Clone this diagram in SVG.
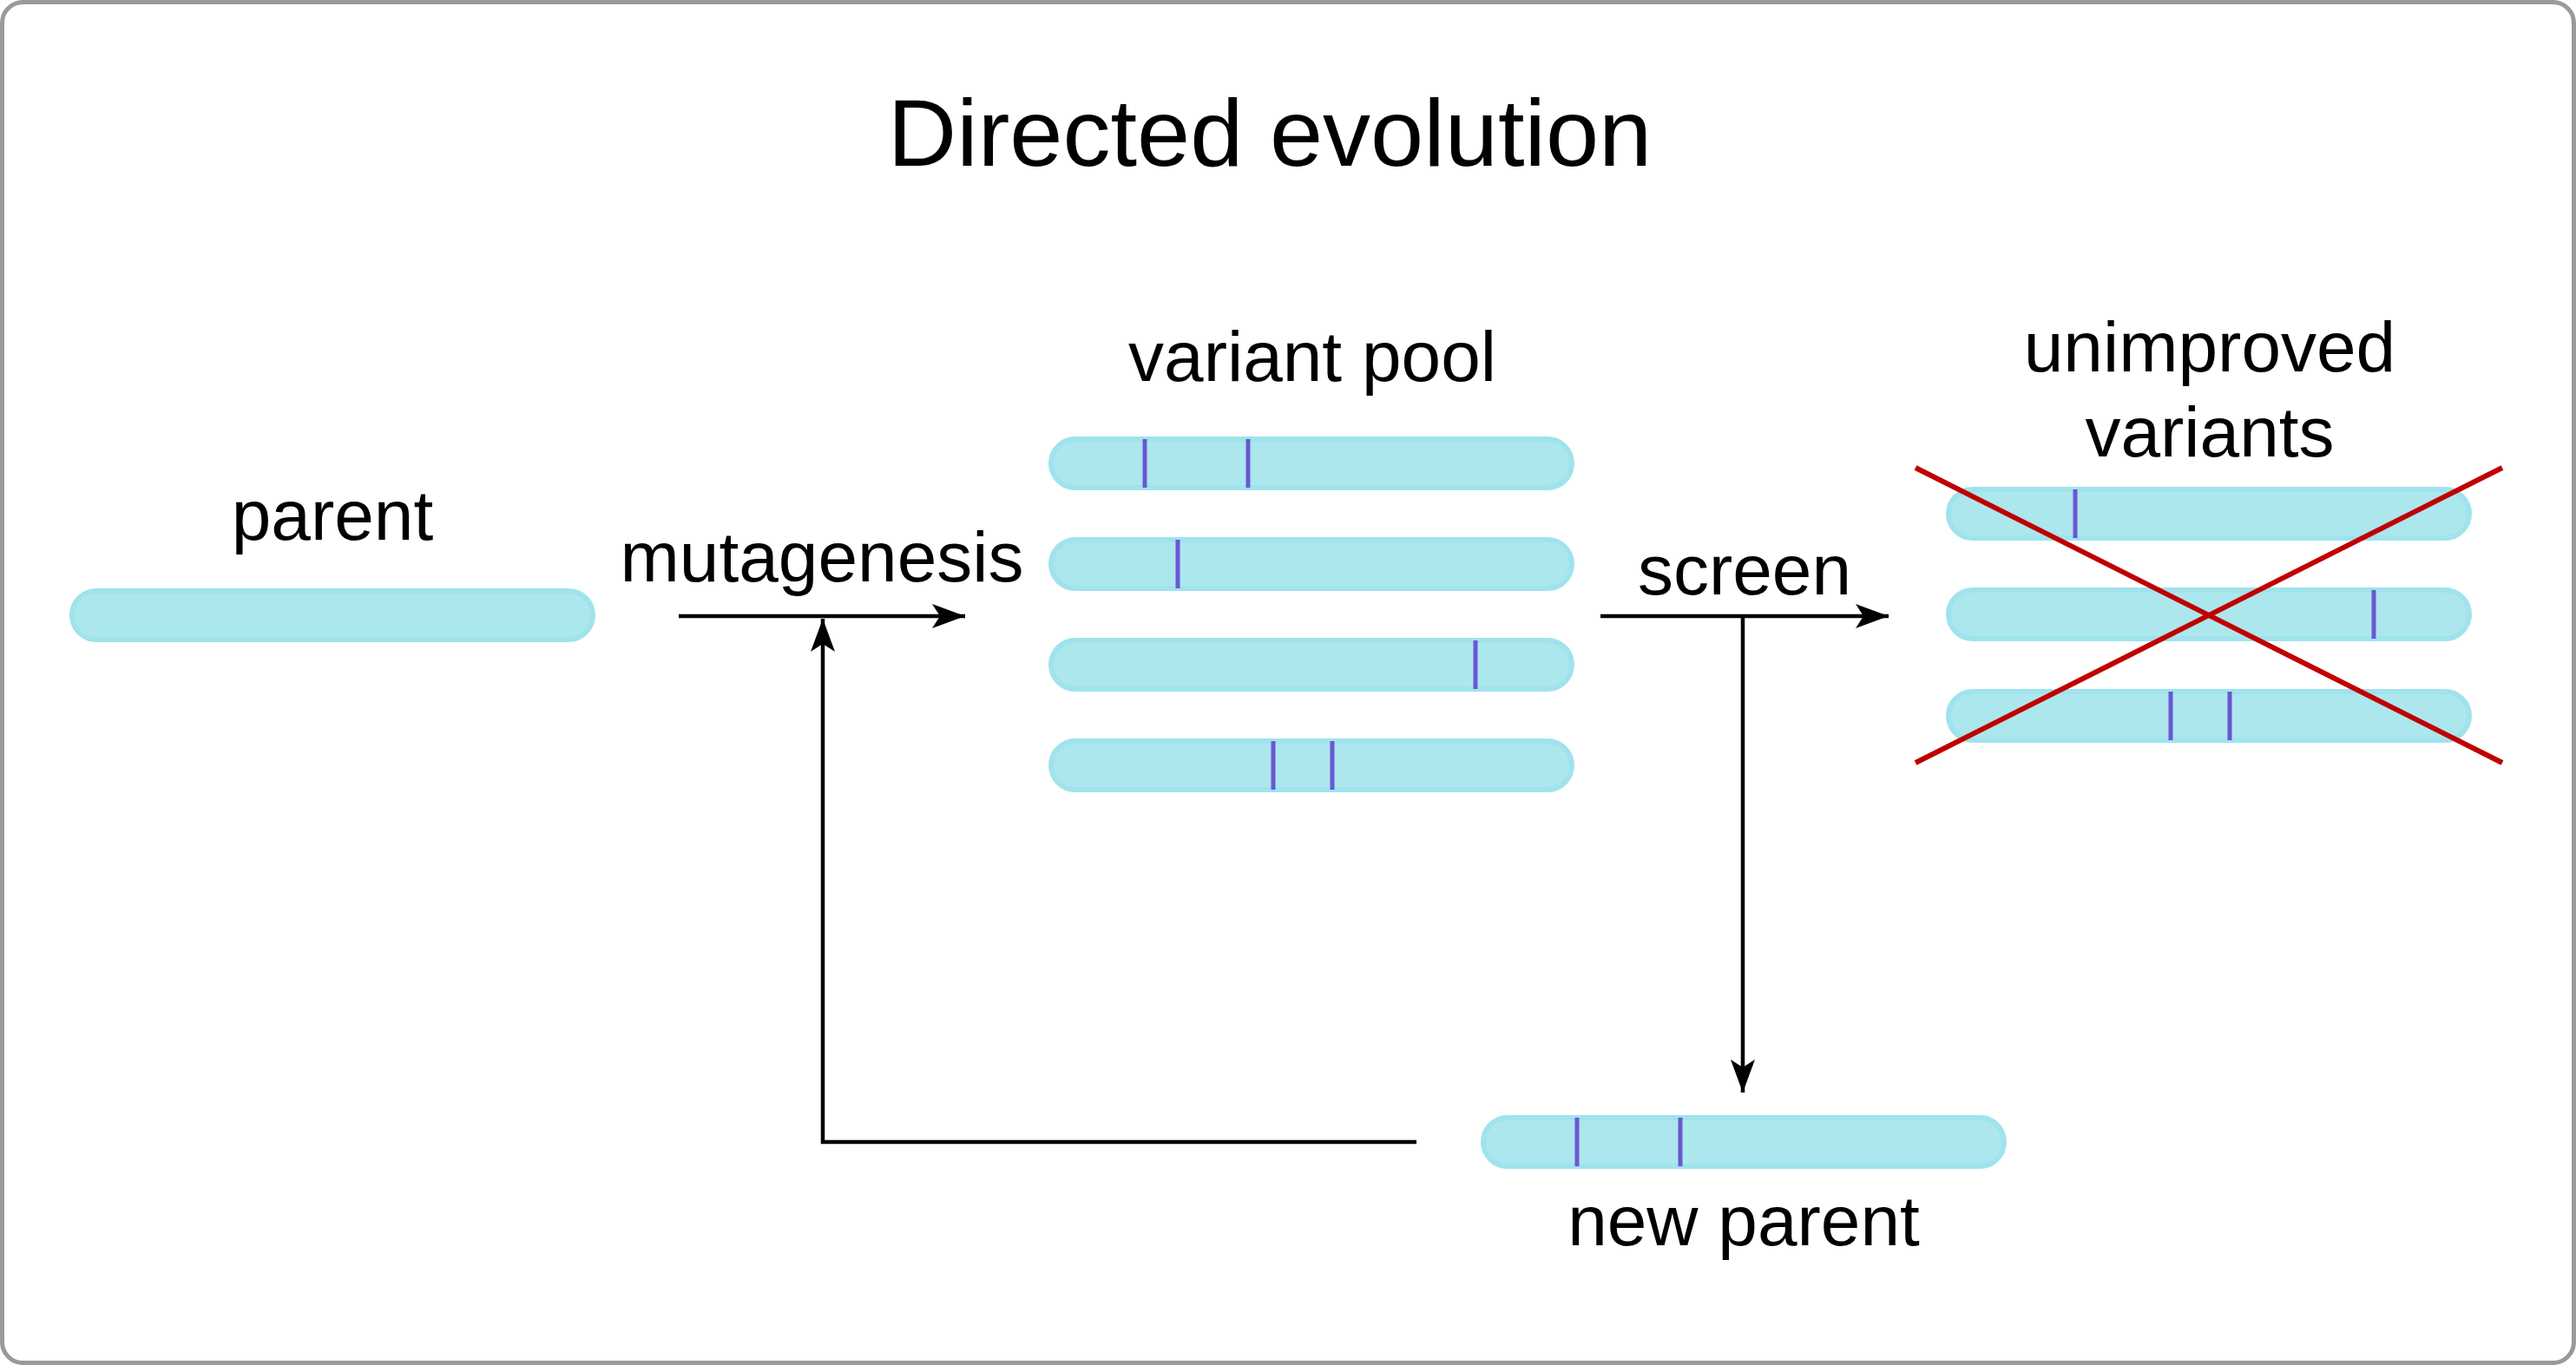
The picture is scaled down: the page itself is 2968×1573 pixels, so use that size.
<svg xmlns="http://www.w3.org/2000/svg" width="2968" height="1573" viewBox="0 0 2968 1573">
  <defs>
    <style>
      .lbl { font-family: "Liberation Sans", Arial, sans-serif; font-size: 82px; fill: #000; text-anchor: middle; }
      .title { font-family: "Liberation Sans", Arial, sans-serif; font-size: 110px; fill: #000; text-anchor: middle; }
      .bar { fill: #ace7ee; stroke: #a0e3ec; stroke-width: 6; }
      .mut { stroke: #6a57d2; stroke-width: 5; }
      .conn { stroke: #000; stroke-width: 4.5; fill: none; }
      .cross { stroke: #c00000; stroke-width: 6; }
    </style>
    <marker id="arr" markerUnits="userSpaceOnUse" viewBox="-40 -16 42 32" refX="0" refY="0" markerWidth="42" markerHeight="32" orient="auto">
      <path d="M0,0 L-38,-14 L-29,0 L-38,14 Z" fill="#000"/>
    </marker>
  </defs>

  <rect x="2.5" y="2.5" width="2963" height="1568" rx="24" ry="24" fill="#fff" stroke="#9a9a9a" stroke-width="5"/>

  <text class="title" x="1463" y="191">Directed evolution</text>

  <g id="connectors">
    <line class="conn" x1="782" y1="710" x2="1112" y2="710" marker-end="url(#arr)"/>
    <line class="conn" x1="1844" y1="710" x2="2176" y2="710" marker-end="url(#arr)"/>
    <line class="conn" x1="2008" y1="710" x2="2008" y2="1259" marker-end="url(#arr)"/>
    <line class="conn" x1="1632" y1="1316" x2="946" y2="1316"/>
    <line class="conn" x1="948" y1="1318" x2="948" y2="713" marker-end="url(#arr)"/>
  </g>

  <g id="parent">
    <rect class="bar" x="83" y="681" width="600" height="56" rx="28" ry="28"/>
    <text class="lbl" x="383" y="622">parent</text>
  </g>

  <g id="mutagenesis-label">
    <text class="lbl" x="947" y="670">mutagenesis</text>
  </g>

  <g id="variant-pool">
    <text class="lbl" x="1512" y="439">variant pool</text>
    <rect class="bar" x="1211" y="506" width="600" height="56" rx="28" ry="28"/>
    <line class="mut" x1="1319" y1="506" x2="1319" y2="562"/>
    <line class="mut" x1="1438" y1="506" x2="1438" y2="562"/>
    <rect class="bar" x="1211" y="622" width="600" height="56" rx="28" ry="28"/>
    <line class="mut" x1="1357" y1="622" x2="1357" y2="678"/>
    <rect class="bar" x="1211" y="738" width="600" height="56" rx="28" ry="28"/>
    <line class="mut" x1="1700" y1="738" x2="1700" y2="794"/>
    <rect class="bar" x="1211" y="854" width="600" height="56" rx="28" ry="28"/>
    <line class="mut" x1="1467" y1="854" x2="1467" y2="910"/>
    <line class="mut" x1="1535" y1="854" x2="1535" y2="910"/>
  </g>

  <g id="screen-label">
    <text class="lbl" x="2010" y="685">screen</text>
  </g>

  <g id="unimproved-variants">
    <text class="lbl" x="2546" y="428">unimproved</text>
    <text class="lbl" x="2546" y="526">variants</text>
    <rect class="bar" x="2245" y="564" width="600" height="56" rx="28" ry="28"/>
    <line class="mut" x1="2391" y1="564" x2="2391" y2="620"/>
    <rect class="bar" x="2245" y="680" width="600" height="56" rx="28" ry="28"/>
    <line class="mut" x1="2735" y1="680" x2="2735" y2="736"/>
    <rect class="bar" x="2245" y="797" width="600" height="56" rx="28" ry="28"/>
    <line class="mut" x1="2501" y1="797" x2="2501" y2="853"/>
    <line class="mut" x1="2569" y1="797" x2="2569" y2="853"/>
    <line class="cross" x1="2207" y1="539" x2="2883" y2="879"/>
    <line class="cross" x1="2207" y1="879" x2="2883" y2="539"/>
  </g>

  <g id="new-parent">
    <rect class="bar" x="1709" y="1288" width="600" height="56" rx="28" ry="28"/>
    <line class="mut" x1="1817" y1="1288" x2="1817" y2="1344"/>
    <line class="mut" x1="1936" y1="1288" x2="1936" y2="1344"/>
    <text class="lbl" x="2009" y="1435">new parent</text>
  </g>
</svg>
